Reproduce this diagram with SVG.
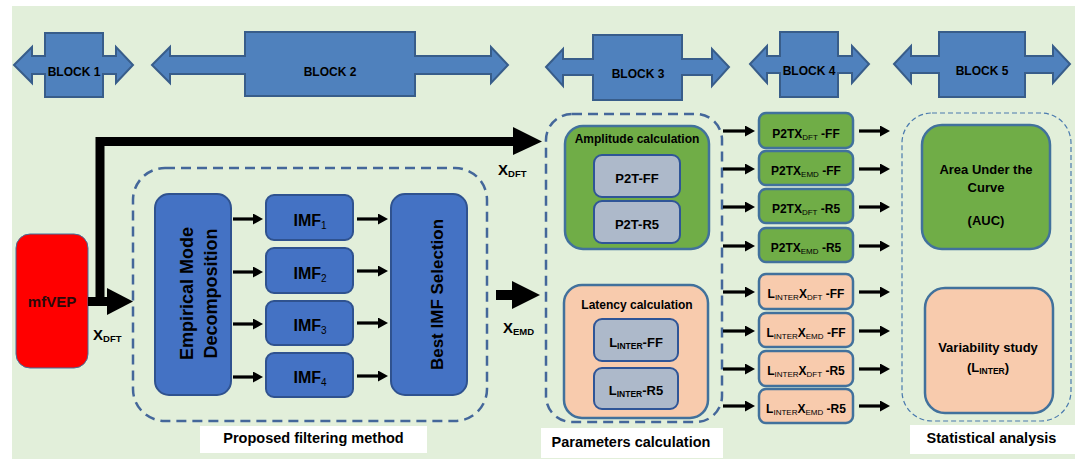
<svg xmlns="http://www.w3.org/2000/svg" width="1078" height="459" viewBox="0 0 1078 459">
<defs>
<style>
text{font-family:"Liberation Sans",Arial,sans-serif;font-weight:bold;fill:#000}
.blk{fill:#4F81BD;stroke:#385D8A;stroke-width:2;stroke-linejoin:miter}
.blkt{font-size:12px;text-anchor:middle}
.blue{fill:#4472C4;stroke:#2F528F;stroke-width:2}
.green{fill:#70AD47;stroke:#41719C;stroke-width:2.5}
.orange{fill:#F8CBAD;stroke:#41719C;stroke-width:2.5}
.gray{fill:#ADB9CA;stroke:#2F5597;stroke-width:2}
.dash{fill:none;stroke:#44679A;stroke-width:2.5;stroke-dasharray:10 6}
.dash2{fill:none;stroke:#4A7AAE;stroke-width:1.2;stroke-dasharray:5 3}
.lbl{fill:#fff}
.mid{text-anchor:middle}
.sub{font-weight:normal}
.arr{stroke:#000;stroke-width:3.2;fill:none;marker-end:url(#ah)}
</style>
<marker id="ah" markerUnits="userSpaceOnUse" markerWidth="10" markerHeight="11" viewBox="0 0 10 11" refX="0" refY="5.5" orient="auto">
<path d="M0,0 L10,5.5 L0,11 Z" fill="#000"/>
</marker>
</defs>
<rect x="12" y="6" width="1063" height="453" fill="#E2EFDA"/>

<g id="block1">
<path class="blk" d="M14,65 L32,47 L32,56 L45,56 L45,33 L103,33 L103,56 L116,56 L116,47 L133,65 L116,83 L116,74 L103,74 L103,97 L45,97 L45,74 L32,74 L32,83 Z"/>
<text class="blkt" x="74" y="76">BLOCK 1</text>
</g>
<g id="block2">
<path class="blk" d="M152,65 L170,47 L170,56 L245,56 L245,32 L415,32 L415,56 L491,56 L491,47 L508,65 L491,83 L491,74 L415,74 L415,96 L245,96 L245,74 L170,74 L170,83 Z"/>
<text class="blkt" x="330" y="76">BLOCK 2</text>
</g>
<g id="block3">
<path class="blk" d="M546,67 L563,49 L563,59 L593,59 L593,35 L682,35 L682,59 L712,59 L712,49 L729,67 L712,86 L712,75 L682,75 L682,100 L593,100 L593,75 L563,75 L563,86 Z"/>
<text class="blkt" x="638" y="78">BLOCK 3</text>
</g>
<g id="block4">
<path class="blk" d="M750,64 L767,46 L767,56 L780,56 L780,32 L838,32 L838,56 L852,56 L852,46 L869,64 L852,83 L852,73 L838,73 L838,97 L780,97 L780,73 L767,73 L767,83 Z"/>
<text class="blkt" x="809" y="75">BLOCK 4</text>
</g>
<g id="block5">
<path class="blk" d="M894,64 L911,46 L911,56 L939,56 L939,32 L1025,32 L1025,56 L1053,56 L1053,46 L1070,64 L1053,83 L1053,73 L1025,73 L1025,97 L939,97 L939,73 L911,73 L911,83 Z"/>
<text class="blkt" x="982" y="75">BLOCK 5</text>
</g>

<g id="group-filtering">
<rect class="dash" x="133" y="168" width="354" height="253" rx="32"/>
<rect class="lbl" x="200" y="426" width="227" height="27"/>
<text class="mid" x="313.5" y="443" font-size="14.5">Proposed filtering method</text>
</g>
<g id="group-parameters">
<rect class="dash" x="546" y="114" width="176" height="308" rx="26"/>
<rect class="lbl" x="541" y="428" width="182" height="30"/>
<text class="mid" x="631" y="447" font-size="14.5">Parameters calculation</text>
</g>
<g id="group-statistical">
<rect class="dash2" x="902" y="113" width="169" height="308" rx="30"/>
<rect class="lbl" x="910" y="425" width="165" height="29"/>
<text class="mid" x="991.5" y="443" font-size="14.5">Statistical analysis</text>
</g>

<g id="mfvep">
<rect x="16" y="234" width="72" height="134" rx="14" fill="#FF0000" stroke="#41719C" stroke-width="1"/>
<text class="mid" x="52" y="307" font-size="15" style="fill:#2a0a0a">mfVEP</text>
</g>

<g id="emd">
<rect class="blue" x="155" y="194" width="76" height="201" rx="14"/>
<text class="mid" transform="translate(193,293.5) rotate(-90)" font-size="18">Empirical Mode</text>
<text class="mid" transform="translate(217,293.5) rotate(-90)" font-size="18">Decomposition</text>
</g>
<g id="imf1"><rect class="blue" x="266" y="195" width="87" height="45" rx="8"/><text class="mid" x="310" y="226" font-size="16">IMF<tspan font-size="10" dy="3" class="sub">1</tspan></text></g>
<g id="imf2"><rect class="blue" x="266" y="248" width="87" height="45" rx="8"/><text class="mid" x="310" y="279" font-size="16">IMF<tspan font-size="10" dy="3" class="sub">2</tspan></text></g>
<g id="imf3"><rect class="blue" x="266" y="301" width="87" height="44" rx="8"/><text class="mid" x="310" y="331" font-size="16">IMF<tspan font-size="10" dy="3" class="sub">3</tspan></text></g>
<g id="imf4"><rect class="blue" x="266" y="353" width="87" height="44" rx="8"/><text class="mid" x="310" y="383" font-size="16">IMF<tspan font-size="10" dy="3" class="sub">4</tspan></text></g>
<g id="best-imf">
<rect class="blue" x="391" y="194" width="76" height="201" rx="14"/>
<text class="mid" transform="translate(443,294.5) rotate(-90)" font-size="17">Best IMF Selection</text>
</g>

<g id="amplitude">
<rect class="green" x="565" y="126" width="144" height="123" rx="18" stroke-width="1.5"/>
<text class="mid" x="637" y="143" font-size="12">Amplitude calculation</text>
</g>
<g id="p2t-ff"><rect class="gray" x="594" y="155" width="86" height="42" rx="8"/><text class="mid" x="637" y="183" font-size="13">P2T-FF</text></g>
<g id="p2t-r5"><rect class="gray" x="594" y="201" width="86" height="42" rx="8"/><text class="mid" x="637" y="229" font-size="13">P2T-R5</text></g>
<g id="latency">
<rect class="orange" x="564" y="285" width="144" height="133" rx="18"/>
<text class="mid" x="637" y="309" font-size="12">Latency calculation</text>
</g>
<g id="linter-ff"><rect class="gray" x="594" y="319" width="84" height="42" rx="8"/><text class="mid" x="636" y="347" font-size="13">L<tspan font-size="8.5" dy="2">INTER</tspan><tspan dy="-2">-FF</tspan></text></g>
<g id="linter-r5"><rect class="gray" x="594" y="368" width="84" height="41" rx="8"/><text class="mid" x="636" y="395" font-size="13">L<tspan font-size="8.5" dy="2">INTER</tspan><tspan dy="-2">-R5</tspan></text></g>

<g id="p2tx-dft-ff"><rect class="green" x="759" y="113" width="94" height="35" rx="7"/><text class="mid" x="806" y="138" font-size="12">P2TX<tspan font-size="8" dy="2" class="sub">DFT</tspan><tspan dy="-2"> -FF</tspan></text></g>
<g id="p2tx-emd-ff"><rect class="green" x="759" y="151" width="94" height="34" rx="7"/><text class="mid" x="806" y="175" font-size="12">P2TX<tspan font-size="8" dy="2" class="sub">EMD</tspan><tspan dy="-2"> -FF</tspan></text></g>
<g id="p2tx-dft-r5"><rect class="green" x="759" y="189" width="94" height="34" rx="7"/><text class="mid" x="806" y="213" font-size="12">P2TX<tspan font-size="8" dy="2" class="sub">DFT</tspan><tspan dy="-2"> -R5</tspan></text></g>
<g id="p2tx-emd-r5"><rect class="green" x="759" y="228" width="94" height="34" rx="7"/><text class="mid" x="806" y="252" font-size="12">P2TX<tspan font-size="8" dy="2" class="sub">EMD</tspan><tspan dy="-2"> -R5</tspan></text></g>

<g id="linter-xdft-ff"><rect class="orange" x="759" y="274" width="94" height="35" rx="7"/><text class="mid" x="806" y="298" font-size="12">L<tspan font-size="8" dy="2" class="sub">INTER</tspan><tspan dy="-2">X</tspan><tspan font-size="8" dy="2" class="sub">DFT</tspan><tspan dy="-2"> -FF</tspan></text></g>
<g id="linter-xemd-ff"><rect class="orange" x="759" y="313" width="94" height="34" rx="7"/><text class="mid" x="806" y="337" font-size="12">L<tspan font-size="8" dy="2" class="sub">INTER</tspan><tspan dy="-2">X</tspan><tspan font-size="8" dy="2" class="sub">EMD</tspan><tspan dy="-2"> -FF</tspan></text></g>
<g id="linter-xdft-r5"><rect class="orange" x="759" y="351" width="94" height="35" rx="7"/><text class="mid" x="806" y="375" font-size="12">L<tspan font-size="8" dy="2" class="sub">INTER</tspan><tspan dy="-2">X</tspan><tspan font-size="8" dy="2" class="sub">DFT</tspan><tspan dy="-2"> -R5</tspan></text></g>
<g id="linter-xemd-r5"><rect class="orange" x="759" y="389" width="94" height="34" rx="7"/><text class="mid" x="806" y="413" font-size="12">L<tspan font-size="8" dy="2" class="sub">INTER</tspan><tspan dy="-2">X</tspan><tspan font-size="8" dy="2" class="sub">EMD</tspan><tspan dy="-2"> -R5</tspan></text></g>

<g id="auc">
<rect class="green" x="922" y="125" width="128" height="124" rx="20"/>
<text class="mid" x="986" y="174" font-size="13">Area Under the</text>
<text class="mid" x="986" y="192" font-size="13">Curve</text>
<text class="mid" x="986" y="225" font-size="13">(AUC)</text>
</g>
<g id="variability">
<rect class="orange" x="925" y="288" width="128" height="125" rx="20"/>
<text class="mid" x="988" y="352" font-size="13">Variability study</text>
<text class="mid" x="988" y="372" font-size="13">(L<tspan font-size="8.5" dy="2">INTER</tspan><tspan dy="-2">)</tspan></text>
</g>

<g id="connectors">
<path d="M88,301.5 H108 M100,301.5 V141.5 H514" fill="none" stroke="#000" stroke-width="9" stroke-linejoin="miter"/>
<polygon points="107,288 133,301.5 107,315" fill="#000"/>
<polygon points="513,127 542,141.5 513,155" fill="#000"/>
<rect x="496" y="290" width="17" height="10" fill="#000"/>
<polygon points="512,281 540,295 512,309" fill="#000"/>
<text x="93" y="340" font-size="15">X<tspan font-size="9.5" dy="2">DFT</tspan></text>
<text x="498" y="175" font-size="15">X<tspan font-size="9.5" dy="2">DFT</tspan></text>
<text x="503" y="333" font-size="15">X<tspan font-size="9.5" dy="2">EMD</tspan></text>
<line class="arr" x1="233" y1="219" x2="253" y2="219"/>
<line class="arr" x1="233" y1="272" x2="253" y2="272"/>
<line class="arr" x1="233" y1="324" x2="253" y2="324"/>
<line class="arr" x1="233" y1="377" x2="253" y2="377"/>
<line class="arr" x1="357" y1="219" x2="378" y2="219"/>
<line class="arr" x1="357" y1="271" x2="378" y2="271"/>
<line class="arr" x1="357" y1="323" x2="378" y2="323"/>
<line class="arr" x1="357" y1="376" x2="378" y2="376"/>
<line class="arr" x1="723" y1="131" x2="745" y2="131"/>
<line class="arr" x1="723" y1="169" x2="745" y2="169"/>
<line class="arr" x1="723" y1="207" x2="745" y2="207"/>
<line class="arr" x1="723" y1="246" x2="745" y2="246"/>
<line class="arr" x1="723" y1="292" x2="745" y2="292"/>
<line class="arr" x1="723" y1="331" x2="745" y2="331"/>
<line class="arr" x1="723" y1="369" x2="745" y2="369"/>
<line class="arr" x1="723" y1="406" x2="745" y2="406"/>
<line class="arr" x1="859" y1="131" x2="880" y2="131"/>
<line class="arr" x1="859" y1="169" x2="880" y2="169"/>
<line class="arr" x1="859" y1="207" x2="880" y2="207"/>
<line class="arr" x1="859" y1="246" x2="880" y2="246"/>
<line class="arr" x1="859" y1="292" x2="880" y2="292"/>
<line class="arr" x1="859" y1="331" x2="880" y2="331"/>
<line class="arr" x1="859" y1="369" x2="880" y2="369"/>
<line class="arr" x1="859" y1="406" x2="880" y2="406"/>
</g>
</svg>
